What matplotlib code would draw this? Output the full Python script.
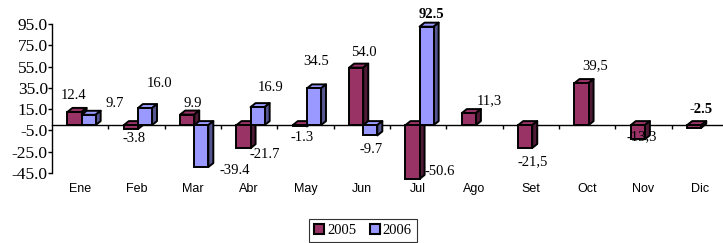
import matplotlib
matplotlib.use("Agg")
import matplotlib.pyplot as plt
from matplotlib.patches import Patch, Polygon
from matplotlib.ticker import FixedLocator, FormatStrFormatter

# data
months = ["Ene", "Feb", "Mar", "Abr", "May", "Jun", "Jul",
          "Ago", "Set", "Oct", "Nov", "Dic"]
v2005 = [12.4, -3.8, 9.9, -21.7, -1.3, 54.0, -50.6, 11.3, -21.5, 39.5, -13.3, -2.5]
v2006 = [9.7, 16.0, -39.4, 16.9, 34.5, -9.7, 92.5]
yticks = [-45, -25, -5, 15, 35, 55, 75, 95]

# label placement (pixels, relative to bar front centre / bar end)
off2005 = [(-1, 16), (3, -9), (6, 11), (21, -6), (2, -11), (8, 15), (27, 7),
           (20, 12), (7, -14), (14, 17), (4, 3), (7, 18)]
off2006 = [(26, 11), (15, 25), (33, -3), (13, 20), (2, 27), (1, -14), (5, 12)]
comma_idx = {7, 8, 9, 10}
bold_2005 = {11}
bold_2006 = {6}

C05, C06 = "#993366", "#9999ff"
S05, S06 = "#4f1a35", "#55558f"

W, H = 723, 243
fig = plt.figure(figsize=(W / 100, H / 100), dpi=100)
ax_l, ax_b, ax_w, ax_h = 52, 70, 676, 149
ax = fig.add_axes([ax_l / W, ax_b / H, ax_w / W, ax_h / H])
ymin, ymax = -45, 95
ax.set_xlim(0, len(months))
ax.set_ylim(ymin, ymax)

# 3d depth in data units
ddx = 5 / (ax_w / len(months))
ddy = 4 / (ax_h / (ymax - ymin))
bw = 0.25
LW = 1.4


def bar3d(x0, v, face, side, z):
    lo, hi = min(0, v), max(0, v)
    ax.bar(x0, hi - lo, bottom=lo, width=bw, align="edge", color=face,
           edgecolor="black", linewidth=LW, zorder=z + 0.002, clip_on=False)
    top = [(x0, hi), (x0 + bw, hi), (x0 + bw + ddx, hi + ddy), (x0 + ddx, hi + ddy)]
    sd = [(x0 + bw, lo), (x0 + bw + ddx, lo + ddy), (x0 + bw + ddx, hi + ddy), (x0 + bw, hi)]
    ax.add_patch(Polygon(top, closed=True, facecolor=face, edgecolor="black",
                         linewidth=LW, zorder=z, joinstyle="round", clip_on=False))
    ax.add_patch(Polygon(sd, closed=True, facecolor=side, edgecolor="black",
                         linewidth=LW, zorder=z + 0.001, joinstyle="round",
                         clip_on=False))


def label(x, v, txt, off, bold):
    ax.annotate(txt, (x, v), xytext=off, textcoords="offset pixels",
                ha="center", va="center", fontsize=10.5,
                family="Liberation Serif", annotation_clip=False,
                fontweight="bold" if bold else "normal", zorder=50)


for i, m in enumerate(months):
    x05 = i + 0.5 - 0.225
    bar3d(x05, v2005[i], C05, S05, 2 + i * 0.1)
    txt = f"{v2005[i]:.1f}"
    if i in comma_idx:
        txt = txt.replace(".", ",")
    label(x05 + bw / 2, v2005[i], txt, off2005[i], i in bold_2005)
    if i < len(v2006):
        x06 = x05 + bw
        bar3d(x06, v2006[i], C06, S06, 2 + i * 0.1 + 0.05)
        label(x06 + bw / 2, v2006[i], f"{v2006[i]:.1f}", off2006[i], i in bold_2006)

# axes styling
for s in ("top", "right"):
    ax.spines[s].set_visible(False)
ax.spines["bottom"].set_position(("data", 0))
ax.spines["bottom"].set_zorder(1)
ax.spines["left"].set_linewidth(1.0)
ax.spines["bottom"].set_linewidth(1.0)

ax.yaxis.set_major_locator(FixedLocator(yticks))
ax.yaxis.set_major_formatter(FormatStrFormatter("%.1f"))
ax.tick_params(axis="y", direction="out", length=3, width=1.0, pad=0,
               labelsize=12.5)
for t in ax.get_yticklabels():
    t.set_family("Liberation Serif")

ax.set_xticks([i + 0.5 for i in range(len(months))])
ax.set_xticklabels(months, family="Liberation Sans", fontsize=9)
ax.set_xticks(range(1, len(months)), minor=True)
ax.tick_params(axis="x", which="major", length=0, pad=42)
ax.tick_params(axis="x", which="minor", direction="out", length=3, width=1.0)

handles = [Patch(facecolor=C05, edgecolor="black", linewidth=1.5, label="2005"),
           Patch(facecolor=C06, edgecolor="black", linewidth=1.5, label="2006")]
leg = fig.legend(handles=handles, loc="upper center", ncol=2,
                 bbox_to_anchor=(363 / W, 1 - 219 / H), frameon=True,
                 fancybox=False, prop={"family": "Liberation Serif", "size": 10.5},
                 handlelength=0.7, handleheight=0.7, handletextpad=0.2,
                 columnspacing=0.9, borderpad=0.35, borderaxespad=0)
leg.get_frame().set_edgecolor("black")
leg.get_frame().set_linewidth(0.8)

fig.savefig("out.png", dpi=100)
